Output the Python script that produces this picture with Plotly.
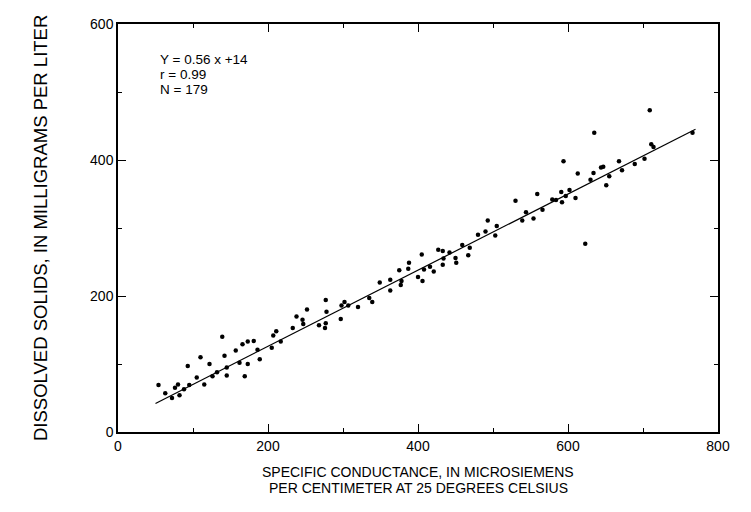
import plotly.graph_objects as go

# Data
conductance = [54, 63, 72, 76, 80, 82, 88, 93, 95, 105, 110, 115, 122, 126, 132, 139, 142, 145, 145,
               157, 162, 166, 169, 173, 173, 181, 186, 189, 205, 207, 211, 217, 233, 238, 246, 247,
               252, 268, 276, 277, 277, 278, 297, 298, 302, 307, 320, 335, 339, 349, 363, 363, 375,
               377, 378, 387, 388, 400, 405, 406, 408, 416, 421, 427, 433, 433, 434, 442, 450, 451,
               459, 467, 469, 480, 490, 493, 503, 505, 530, 539, 544, 554, 559, 566, 579, 584, 591,
               592, 594, 597, 602, 610, 613, 623, 630, 634, 635, 644, 647, 651, 655, 668, 672, 689,
               702, 709, 711, 714, 766]
dissolved = [69, 57, 50, 65, 70, 54, 63, 97, 69, 80, 110, 70, 100, 82, 88, 140, 112, 83, 95,
             120, 102, 129, 82, 133, 100, 134, 121, 107, 124, 142, 148, 133, 153, 170, 165, 159,
             180, 157, 153, 160, 194, 177, 166, 186, 191, 186, 184, 197, 191, 220, 208, 224, 238,
             216, 222, 240, 249, 228, 261, 222, 239, 243, 236, 268, 266, 246, 255, 264, 256, 249,
             275, 260, 271, 290, 295, 311, 289, 303, 340, 311, 323, 314, 350, 327, 342, 341, 353,
             338, 398, 347, 356, 344, 380, 277, 371, 381, 440, 389, 390, 363, 376, 398, 385, 394,
             402, 473, 423, 419, 440]
slope = 0.56
intercept = 14
fit_x = [50, 770]
fit_y = [slope * v + intercept for v in fit_x]
stats_lines = ["Y = 0.56 x +14", "r = 0.99", "N = 179"]
x_title_lines = ["SPECIFIC CONDUCTANCE, IN MICROSIEMENS", "PER CENTIMETER AT 25 DEGREES CELSIUS"]
y_title = "DISSOLVED SOLIDS, IN MILLIGRAMS PER LITER"
x_ticks = [0, 200, 400, 600, 800]
y_ticks = [0, 200, 400, 600]

FONT = "Liberation Sans, Arial, sans-serif"

fig = go.Figure()
fig.add_trace(go.Scatter(x=conductance, y=dissolved, mode="markers",
                         marker=dict(color="black", size=4.5), showlegend=False))
fig.add_trace(go.Scatter(x=fit_x, y=fit_y, mode="lines",
                         line=dict(color="black", width=1.2), showlegend=False))

axis_common = dict(showgrid=False, zeroline=False, showline=True, linecolor="black",
                   linewidth=1.5, mirror="ticks", ticks="inside", ticklen=8,
                   tickcolor="black", tickwidth=1,
                   tickfont=dict(family=FONT, size=14, color="black"))

fig.update_xaxes(range=[0, 800], tickvals=x_ticks, ticktext=[str(v) for v in x_ticks],
                 minor=dict(tickvals=[100, 300, 500, 700], ticks="inside", ticklen=4,
                            tickcolor="black"),
                 **axis_common)
fig.update_yaxes(range=[0, 600], tickvals=y_ticks, ticktext=[str(v) for v in y_ticks],
                 minor=dict(tickvals=[100, 300, 500], ticks="inside", ticklen=4,
                            tickcolor="black"),
                 **axis_common)

# x-axis title, two lines
for i, line in enumerate(x_title_lines):
    fig.add_annotation(xref="paper", yref="paper", x=0.5, y=-(40 + 16 * i) / 408,
                       yanchor="middle", text=line, showarrow=False,
                       font=dict(family=FONT, size=14, color="black"))
# y-axis title
fig.add_annotation(xref="paper", yref="paper", x=-78 / 600, xanchor="center", y=0.5,
                   text=y_title, textangle=-90, showarrow=False,
                   font=dict(family=FONT, size=18.5, color="black"))
# statistics block
for i, line in enumerate(stats_lines):
    fig.add_annotation(xref="x", yref="y", x=53, y=548 - 22 * i, xanchor="left",
                       yanchor="middle", text=line, showarrow=False,
                       font=dict(family=FONT, size=13.5, color="black"))

fig.update_layout(width=751, height=512, paper_bgcolor="white", plot_bgcolor="white",
                  margin=dict(l=118, r=33, t=24, b=80),
                  font=dict(family=FONT, color="black"))

fig.write_html("out.html")
